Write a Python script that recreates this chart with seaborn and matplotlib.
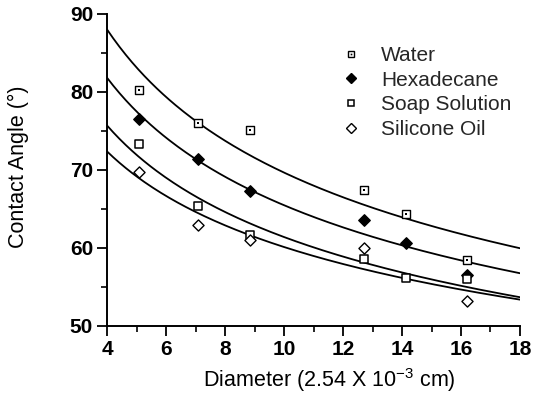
import numpy as np
import pandas as pd
import matplotlib
matplotlib.use("Agg")
import matplotlib.pyplot as plt
from matplotlib.lines import Line2D
import seaborn as sns

# Measured contact angles (degrees) against capillary diameter (units of 2.54e-3 cm)
diameter = [5.1, 7.1, 8.85, 12.7, 14.15, 16.2]
water = [80.3, 76.0, 75.1, 67.4, 64.4, 58.5]
hexadecane = [76.5, 71.4, 67.3, 63.6, 60.7, 56.5]
soap_solution = [73.3, 65.4, 61.6, 58.6, 56.2, 56.0]
silicone_diameter = [5.1, 7.1, 8.85, 12.7, 16.2]
silicone_oil = [69.8, 62.9, 61.0, 60.0, 53.2]

liquids = ["Water", "Hexadecane", "Soap Solution", "Silicone Oil"]
x_ticks = [4, 6, 8, 10, 12, 14, 16, 18]
y_ticks = [50, 60, 70, 80, 90]

sns.set_theme(style="ticks")
plt.rcParams["font.family"] = ["Liberation Sans", "DejaVu Sans"]

frames = []
for name, xs, ys in [("Water", diameter, water),
                     ("Hexadecane", diameter, hexadecane),
                     ("Soap Solution", diameter, soap_solution),
                     ("Silicone Oil", silicone_diameter, silicone_oil)]:
    frames.append(pd.DataFrame({"diameter": xs, "angle": ys, "liquid": name}))
df = pd.concat(frames, ignore_index=True)

fig = plt.figure(figsize=(5.33, 3.95), dpi=100)
ax = fig.add_axes([0.2008, 0.1747, 0.7748, 0.79])

# Power-law fit (angle = a * d^b) for each liquid, drawn across the full axis
d_grid = np.linspace(4, 18, 200)
for name in liquids:
    sub = df[df["liquid"] == name]
    b, ln_a = np.polyfit(np.log(sub["diameter"]), np.log(sub["angle"]), 1)
    curve = pd.DataFrame({"diameter": d_grid, "angle": np.exp(ln_a) * d_grid ** b})
    sns.lineplot(data=curve, x="diameter", y="angle", color="black", lw=1.3, ax=ax,
                 zorder=2)

styles = {
    "Water": dict(marker="s", s=30, facecolor="white", edgecolor="black", linewidth=1.0),
    "Hexadecane": dict(marker="D", s=34, facecolor="black", edgecolor="black", linewidth=1.0),
    "Soap Solution": dict(marker="s", s=34, facecolor="white", edgecolor="black", linewidth=1.1),
    "Silicone Oil": dict(marker="D", s=32, facecolor="white", edgecolor="black", linewidth=1.0),
}
for name in liquids:
    sub = df[df["liquid"] == name]
    sns.scatterplot(data=sub, x="diameter", y="angle", ax=ax, zorder=3, **styles[name])
# centre dot of the water markers
sub = df[df["liquid"] == "Water"]
sns.scatterplot(data=sub, x="diameter", y="angle", ax=ax, zorder=4, marker="s", s=3,
                color="black", linewidth=0)

ax.set_xlim(4, 18)
ax.set_ylim(50, 90)
ax.set_xticks(x_ticks)
ax.set_yticks(y_ticks)
ax.set_xticks(np.arange(5, 18, 2), minor=True)
ax.set_yticks(np.arange(55, 90, 10), minor=True)
ax.tick_params(axis="both", which="major", direction="out", length=7, width=1.3,
               labelsize=15, color="black", labelcolor="black", pad=3)
ax.tick_params(axis="both", which="minor", direction="out", length=4, width=1.2,
               color="black")
for lbl in ax.get_xticklabels() + ax.get_yticklabels():
    lbl.set_fontweight("bold")
for side in ["top", "right"]:
    ax.spines[side].set_visible(False)
for side in ["left", "bottom"]:
    ax.spines[side].set_color("black")
    ax.spines[side].set_linewidth(1.4)

ax.set_xlabel("Diameter (2.54 X 10$^{\\mathregular{-3}}$ cm)", fontsize=15.5, color="black")
ax.set_ylabel("Contact Angle (\u00b0)", fontsize=15.5, color="black")
ax.xaxis.set_label_coords(0.5375, -0.128)
ax.yaxis.set_label_coords(-0.19, 0.51)

water_handle = (
    Line2D([], [], ls="none", marker="s", ms=5, mfc="white", mec="black", mew=1.0),
    Line2D([], [], ls="none", marker="s", ms=1.2, mfc="black", mec="black", mew=0),
)
handles = [
    water_handle,
    Line2D([], [], ls="none", marker="D", ms=5.5, mfc="black", mec="black"),
    Line2D([], [], ls="none", marker="s", ms=5, mfc="white", mec="black", mew=1.1),
    Line2D([], [], ls="none", marker="D", ms=5.5, mfc="white", mec="black", mew=1.0),
]
ax.legend(handles, liquids, loc="upper left", bbox_to_anchor=(0.566, 0.897),
          frameon=False, fontsize=15, handlelength=1.0, handletextpad=0.95,
          labelspacing=0.27, borderaxespad=0, borderpad=0)

fig.savefig("out.png", dpi=100)
